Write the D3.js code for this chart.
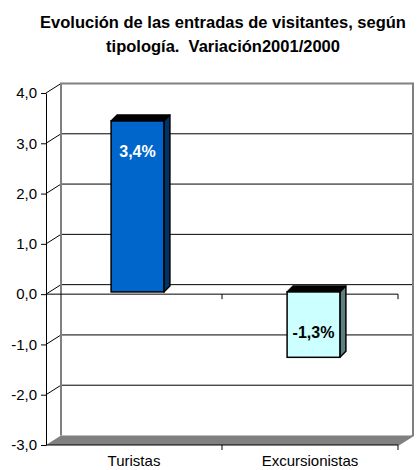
<!DOCTYPE html>
<html>
<head>
<meta charset="utf-8">
<script src="https://cdn.jsdelivr.net/npm/d3@7"></script>
<style>
  body { margin: 0; background: #fff; }
  svg { display: block; font-family: "Liberation Sans", Arial, sans-serif; }
</style>
</head>
<body>
<div id="chart"></div>
<script>
var categories = ['Turistas', 'Excursionistas'];
var values = [3.4, -1.3];
var valueLabels = ['3,4%', '-1,3%'];
var yTicks = [-3, -2, -1, 0, 1, 2, 3, 4];
var titleLines = ['Evolución de las entradas de visitantes, según', 'tipología.  Variación2001/2000'];

var width = 420, height = 470;
var plot = { left: 46, right: 398, top: 93, bottom: 445 };
var DX = 15, DY = -9.5;          // depth of the walls
var barOff = [3.5, -2.2];        // front face of bars sits a bit into the depth
var barDX = 6, barDY = -6;       // bar depth

var fmt1 = d3.formatLocale({decimal: ',', thousands: '.', grouping: [3], currency: ['', '€'], minus: '-'}).format('.1f');

var svg = d3.select('#chart').append('svg')
  .attr('width', width)
  .attr('height', height);

var y = d3.scaleLinear().domain([-3, 4]).range([plot.bottom, plot.top]);
var x = d3.scaleBand().domain(categories).range([plot.left, plot.right]);

// title
svg.append('g').selectAll('text')
  .data(titleLines)
  .enter().append('text')
  .attr('x', 223)
  .attr('y', function(d, i) { return 28 + i * 24; })
  .attr('text-anchor', 'middle')
  .attr('font-weight', 'bold')
  .attr('font-size', 16.5)
  .style('white-space', 'pre')
  .text(function(d) { return d; });

// floor
svg.append('path')
  .attr('d', 'M' + plot.left + ',' + plot.bottom +
    'L' + (plot.left + DX) + ',' + (plot.bottom + DY) +
    'L' + (plot.right + DX) + ',' + (plot.bottom + DY) +
    'L' + plot.right + ',' + plot.bottom + 'Z')
  .attr('fill', '#808080');

// back wall gridlines
var inner = yTicks.filter(function(d) { return d > -3 && d < 4; });
svg.append('g').selectAll('line')
  .data(inner)
  .enter().append('line')
  .attr('x1', plot.left + DX).attr('x2', plot.right + DX)
  .attr('y1', function(d) { return y(d) + DY; })
  .attr('y2', function(d) { return y(d) + DY; })
  .attr('stroke', '#000').attr('stroke-width', 1);

// side wall diagonals
svg.append('g').selectAll('line')
  .data(yTicks.filter(function(d) { return d > -3; }))
  .enter().append('line')
  .attr('x1', plot.left).attr('x2', plot.left + DX)
  .attr('y1', function(d) { return y(d); })
  .attr('y2', function(d) { return y(d) + DY; })
  .attr('stroke', '#000').attr('stroke-width', 1);

// back wall border (grey)
svg.append('path')
  .attr('d', 'M' + (plot.left + DX) + ',' + (plot.bottom + DY) +
    'V' + (plot.top + DY) + 'H' + (plot.right + DX) + 'V' + (plot.bottom + DY) +
    'L' + plot.right + ',' + plot.bottom)
  .attr('fill', 'none')
  .attr('stroke', '#808080')
  .attr('stroke-width', 2);

// front zero line with category ticks
svg.append('line')
  .attr('x1', plot.left).attr('x2', plot.right)
  .attr('y1', y(0)).attr('y2', y(0))
  .attr('stroke', '#000');
var bounds = [plot.left, plot.left + x.bandwidth(), plot.right];
svg.append('g').selectAll('line')
  .data(bounds.slice(1))
  .enter().append('line')
  .attr('x1', function(d) { return d; }).attr('x2', function(d) { return d; })
  .attr('y1', y(0)).attr('y2', y(0) + 5)
  .attr('stroke', '#000');

// bars
var barW = x.bandwidth() * 0.3;
var bars = svg.append('g').selectAll('g')
  .data(values)
  .enter().append('g');

function bx(i) { return x(categories[i]) + x.bandwidth() / 2 - barW / 2 + barOff[0]; }
function by0() { return y(0) + barOff[1]; }
function byv(d) { return y(0) + barOff[1] - (y(0) - y(d)); }

var front = ['#0066cc', '#ccffff'];
var side = ['#003366', '#5f7f7f'];
var top = ['#002b55', '#000000'];

// top face
bars.append('path')
  .attr('d', function(d, i) {
    var x0 = bx(i), yt = Math.min(by0(), byv(d));
    return 'M' + x0 + ',' + yt + 'L' + (x0 + barDX) + ',' + (yt + barDY) +
      'L' + (x0 + barW + barDX) + ',' + (yt + barDY) + 'L' + (x0 + barW) + ',' + yt + 'Z';
  })
  .attr('fill', function(d, i) { return top[i]; })
  .attr('stroke', '#000').attr('stroke-width', 1.5).attr('stroke-linejoin', 'round');

// side face
bars.append('path')
  .attr('d', function(d, i) {
    var x1 = bx(i) + barW, yt = Math.min(by0(), byv(d)), yb = Math.max(by0(), byv(d));
    return 'M' + x1 + ',' + yt + 'L' + (x1 + barDX) + ',' + (yt + barDY) +
      'L' + (x1 + barDX) + ',' + (yb + barDY) + 'L' + x1 + ',' + yb + 'Z';
  })
  .attr('fill', function(d, i) { return side[i]; })
  .attr('stroke', '#000').attr('stroke-width', 1.5).attr('stroke-linejoin', 'round');

// front face
bars.append('rect')
  .attr('x', function(d, i) { return bx(i); })
  .attr('y', function(d) { return Math.min(by0(), byv(d)); })
  .attr('width', barW)
  .attr('height', function(d) { return Math.abs(byv(d) - by0()); })
  .attr('fill', function(d, i) { return front[i]; })
  .attr('stroke', '#000').attr('stroke-width', 1.5);

// value labels
bars.append('text')
  .attr('x', function(d, i) { return bx(i) + barW / 2; })
  .attr('y', function(d, i) { return i === 0 ? byv(d) + 36 : byv(d) - 19; })
  .attr('text-anchor', 'middle')
  .attr('font-weight', 'bold')
  .attr('font-size', 16)
  .attr('fill', function(d, i) { return i === 0 ? '#fff' : '#000'; })
  .text(function(d, i) { return valueLabels[i]; });

// y axis (front)
var yAxis = d3.axisLeft(y)
  .tickValues(yTicks)
  .tickFormat(fmt1)
  .tickSizeInner(5)
  .tickSizeOuter(0)
  .tickPadding(4);
svg.append('g')
  .attr('transform', 'translate(' + plot.left + ',0)')
  .call(yAxis)
  .call(function(g) {
    g.selectAll('text').attr('font-size', 15).attr('font-family', '"Liberation Sans", Arial, sans-serif').attr('fill', '#000');
    g.selectAll('line, path').attr('stroke', '#000');
  });

// x axis (bottom)
svg.append('line')
  .attr('x1', plot.left).attr('x2', plot.right)
  .attr('y1', plot.bottom).attr('y2', plot.bottom)
  .attr('stroke', '#000');
svg.append('g').selectAll('line')
  .data(bounds.slice(1))
  .enter().append('line')
  .attr('x1', function(d) { return d; }).attr('x2', function(d) { return d; })
  .attr('y1', plot.bottom).attr('y2', plot.bottom + 5)
  .attr('stroke', '#000');
svg.append('g').selectAll('text')
  .data(categories)
  .enter().append('text')
  .attr('x', function(d) { return x(d) + x.bandwidth() / 2; })
  .attr('y', 466)
  .attr('text-anchor', 'middle')
  .attr('font-size', 15)
  .text(function(d) { return d; });
</script>
</body>
</html>
